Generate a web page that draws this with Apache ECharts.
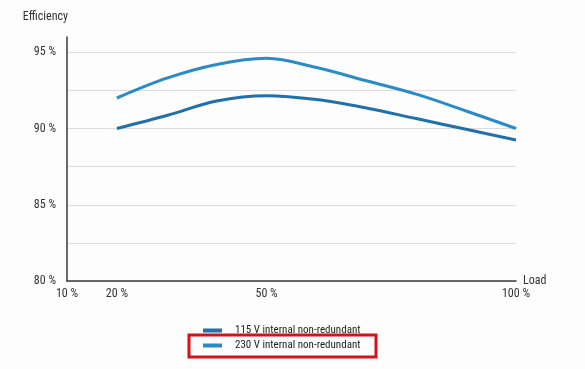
<!DOCTYPE html>
<html><head><meta charset="utf-8">
<script src="https://cdn.jsdelivr.net/npm/echarts@6/dist/echarts.min.js"></script>
<style>html,body{margin:0;padding:0;background:#fdfdfd}#c{width:585px;height:369px}</style>
</head><body><div id="c"></div>
<script>
const loads = [20, 30, 40, 50, 60, 70, 80, 90, 100];
const eff115 = [90.0, 90.85, 91.8, 92.15, 91.9, 91.35, 90.65, 89.95, 89.25];
const eff230 = [92.0, 93.3, 94.2, 94.6, 94.0, 93.13, 92.25, 91.15, 90.0];
const seriesNames = ['115 V internal non-redundant', '230 V internal non-redundant'];
const xTickLabels = [10, 20, 50, 100];
const yTickLabels = [80, 85, 90, 95];

const cv = document.createElement('canvas').getContext('2d');
function pickFont() {
  const cands = ['Liberation Sans Narrow', 'Arial Narrow', 'Roboto Condensed', 'DejaVu Sans Condensed'];
  const s = '115 V internal non-redundant';
  cv.font = '12px monospace'; const wm = cv.measureText(s).width;
  cv.font = '12px serif'; const ws = cv.measureText(s).width;
  for (const f of cands) {
    cv.font = "12px '" + f + "', monospace"; const a = cv.measureText(s).width;
    cv.font = "12px '" + f + "', serif"; const b = cv.measureText(s).width;
    if (a !== wm || b !== ws) return "'" + f + "'";
  }
  return "'Liberation Sans'";
}
const font = pickFont();
cv.font = '12px ' + font;
const wRef = cv.measureText('115 V internal non-redundant').width;
const fs = Math.max(9, Math.min(13, Math.round(12 * 128 / wRef * 2) / 2));
const afs = Math.round(fs * 1.1 * 2) / 2;

const chart = echarts.init(document.getElementById('c'));
chart.setOption({
  backgroundColor: '#fdfdfd',
  animation: false,
  textStyle: { fontFamily: font },
  grid: { left: 67, right: 69, top: 37, bottom: 88 },
  xAxis: {
    type: 'value', min: 10, max: 100, interval: 10,
    name: 'Load', nameLocation: 'end', nameGap: 7,
    nameTextStyle: { color: '#333', fontSize: afs, fontFamily: font, padding: [0,0,4,0] },
    axisLine: { lineStyle: { color: '#3a3a3a', width: 1.5 } },
    axisTick: { show: false },
    splitLine: { show: false },
    axisLabel: {
      color: '#333', fontSize: afs, fontFamily: font, margin: 7,
      formatter: v => xTickLabels.indexOf(v) >= 0 ? v + ' %' : ''
    }
  },
  yAxis: {
    type: 'value', min: 80, max: 96, interval: 2.5,
    name: 'Efficiency', nameLocation: 'end', nameGap: 14,
    nameTextStyle: { color: '#333', fontSize: afs, fontFamily: font, align: 'right', padding: [0, -1, 0, 0] },
    axisLine: { show: true, lineStyle: { color: '#3a3a3a', width: 1.5 } },
    axisTick: { show: false },
    splitLine: { show: true, showMaxLine: false, lineStyle: { color: '#dcdcdc', width: 1 } },
    axisLabel: {
      color: '#333', fontSize: afs, fontFamily: font, margin: 11,
      formatter: v => yTickLabels.indexOf(v) >= 0 ? v + ' %' : ''
    }
  },
  legend: {
    orient: 'vertical', left: 198, top: 320, itemWidth: 19, itemHeight: 4, itemGap: 4,
    icon: 'rect',
    textStyle: { color: '#222', fontSize: fs, fontFamily: font, padding: [0,0,0,8] },
    data: seriesNames
  },
  series: [
    { name: seriesNames[0], type: 'line', smooth: 0.35, showSymbol: false,
      color: '#2170aa', lineStyle: { width: 3, color: '#2170aa' },
      data: loads.map((l, i) => [l, eff115[i]]) },
    { name: seriesNames[1], type: 'line', smooth: 0.35, showSymbol: false,
      color: '#2b8bc6', lineStyle: { width: 3, color: '#2b8bc6' },
      data: loads.map((l, i) => [l, eff230[i]]) }
  ],
  graphic: [
    { type: 'rect', shape: { x: 189, y: 335, width: 187, height: 22 },
      style: { fill: 'none', stroke: '#d4121a', lineWidth: 3 } }
  ]
});
</script></body></html>
